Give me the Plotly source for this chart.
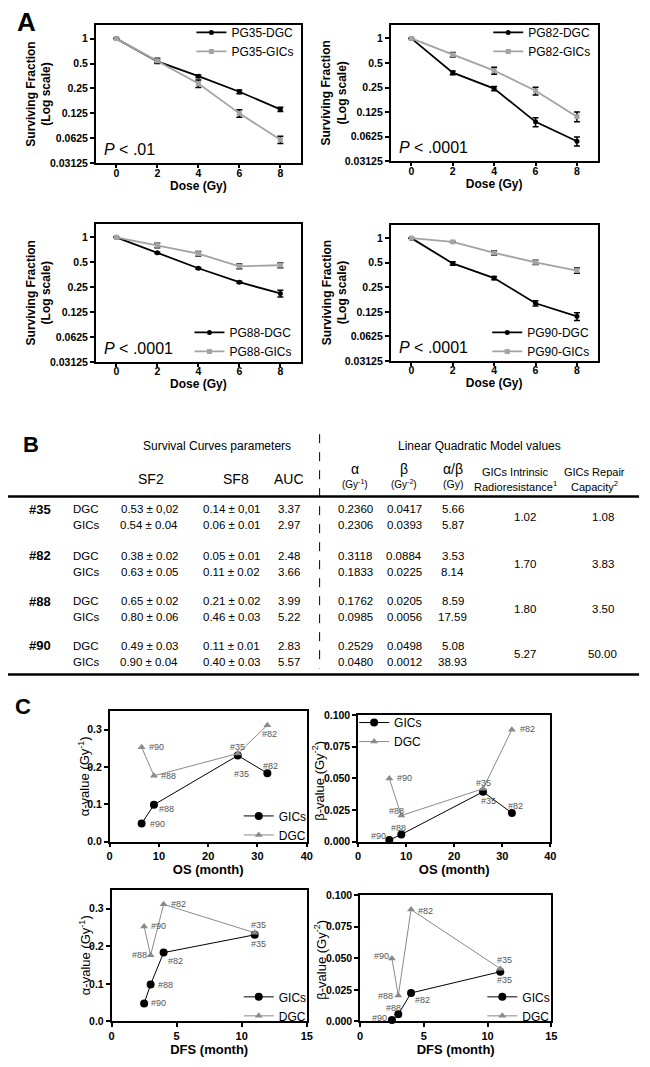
import plotly.graph_objects as go

W, H = 650, 1067
OX, OY = 8, 8            # default page margin of the html body
PW, PH = W - OX, H - OY  # figure size so that the page is exactly W x H
FONT = "Liberation Sans, Arial, Helvetica, sans-serif"
BLACK = "#000000"
GREY_A = "#a3a3a3"
GREY_C = "#8a8a8a"
LABEL_GREY = "#555555"

# ---------------- Panel A data ----------------
dose = [0, 2, 4, 6, 8]
cell_lines = ["PG35", "PG82", "PG88", "PG90"]
p_values = ["< .01", "< .0001", "< .0001", "< .0001"]
sf_dgc = [
    [1, 0.53, 0.352, 0.228, 0.14],
    [1, 0.38, 0.243, 0.095, 0.055],
    [1, 0.65, 0.423, 0.287, 0.21],
    [1, 0.49, 0.324, 0.159, 0.11],
]
err_dgc = [
    [0, 0.02, 0.012, 0.012, 0.008],
    [0, 0.02, 0.015, 0.012, 0.007],
    [0, 0.01, 0.01, 0.008, 0.02],
    [0, 0.025, 0.015, 0.012, 0.012],
]
sf_gic = [
    [1, 0.54, 0.287, 0.125, 0.06],
    [1, 0.63, 0.404, 0.228, 0.11],
    [1, 0.80, 0.636, 0.447, 0.46],
    [1, 0.90, 0.66, 0.505, 0.40],
]
err_gic = [
    [0, 0.04, 0.03, 0.013, 0.006],
    [0, 0.04, 0.04, 0.025, 0.015],
    [0, 0.05, 0.04, 0.03, 0.03],
    [0, 0.01, 0.04, 0.03, 0.03],
]
sf_ticks = [0.03125, 0.0625, 0.125, 0.25, 0.5, 1]
sf_ticktext = ["0.03125", "0.0625", "0.125", "0.25", "0.5", "1"]

# ---------------- Panel B data ----------------
samples = ["#35", "#82", "#88", "#90"]
cell_types = ["DGC", "GICs"]
sf2_txt = [["0.53 ± 0,02", "0.54 ± 0.04"], ["0.38 ± 0.02", "0.63 ± 0.05"],
           ["0.65 ± 0.02", "0.80 ± 0.06"], ["0.49 ± 0.03", "0.90 ± 0.04"]]
sf8_txt = [["0.14 ± 0,01", "0.06 ± 0.01"], ["0.05 ± 0.01", "0.11 ± 0.02"],
           ["0.21 ± 0.02", "0.46 ± 0.03"], ["0.11 ± 0.01", "0.40 ± 0.03"]]
auc = [[3.37, 2.97], [2.48, 3.66], [3.99, 5.22], [2.83, 5.57]]
alpha_dgc = [0.2360, 0.3118, 0.1762, 0.2529]
alpha_gic = [0.2306, 0.1833, 0.0985, 0.0480]
beta_dgc = [0.0417, 0.0884, 0.0205, 0.0498]
beta_gic = [0.0393, 0.0225, 0.0056, 0.0012]
ab_ratio = [[5.66, 5.87], [3.53, 8.14], [8.59, 17.59], [5.08, 38.93]]
radioresistance = [1.02, 1.70, 1.80, 5.27]
repair_capacity = [1.08, 3.83, 3.50, 50.00]

# ---------------- Panel C data ----------------
os_month = [26, 32, 9, 6.5]
dfs_month = [11, 4, 3, 2.5]

# ---------------- helpers (page pixel -> paper fraction) ----------------
def px(x):
    return (x - OX) / PW

def py(y):
    return 1 - (y - OY) / PH

def dx(a, b):
    return [px(a), px(b)]

def dy(t, b):
    return [py(b), py(t)]

annotations = []
shapes = []
layout = dict(
    width=PW, height=PH, margin=dict(l=0, r=0, t=0, b=0),
    paper_bgcolor="white", plot_bgcolor="white",
    font=dict(family=FONT, color=BLACK), showlegend=True,
)

def text(x, y, s, size=11, bold=False, anchor="center", angle=0, color=BLACK):
    annotations.append(dict(
        xref="paper", yref="paper", x=px(x), y=py(y), text=s, showarrow=False,
        xanchor=anchor, yanchor="middle", textangle=angle,
        font=dict(family=FONT, size=size, color=color,
                  weight="bold" if bold else "normal"),
    ))

fig = go.Figure()

def axis_common():
    return dict(showline=True, mirror=True, linecolor=BLACK, linewidth=1.5,
                ticks="outside", ticklen=4, tickwidth=1.5, tickcolor=BLACK,
                showgrid=False, zeroline=False)

# ---------------- Panel A ----------------
A_boxes = [(94, 302, 19, 159), (393, 603, 19, 157), (94, 302, 220, 360), (393, 603, 221, 359)]
A_legend = [(191, 12, "top"), (492, 12, "top"), (189, 364, "bottom"), (491, 364, "bottom")]
A_ytitle = [(36, 89), (336, 88), (36, 290), (336, 290)]
for i in range(4):
    n = i + 1
    sx = "" if n == 1 else str(n)
    l, r, t, b = A_boxes[i]
    xa = axis_common()
    xa.update(domain=dx(l, r), range=[-1, 9], tickvals=dose, anchor="y" + sx, ticklen=3,
              ticklabelstandoff=-4,
              tickfont=dict(size=10.5, weight="bold"),
              title=dict(text="Dose (Gy)", font=dict(size=12, weight="bold"), standoff=0))
    ya = axis_common()
    ya.update(domain=dy(t, b), type="log", range=[-1.506, 0.166], tickvals=sf_ticks,
              ticktext=sf_ticktext, anchor="x" + sx,
              tickfont=dict(size=10.5, weight="bold"))
    layout["xaxis" + sx] = xa
    layout["yaxis" + sx] = ya
    tx, ty = A_ytitle[i]
    text(tx, ty, "Surviving Fraction<br>(Log scale)", size=12, bold=True, angle=-90)
    lg = "legend" + sx
    lx, ly, la = A_legend[i]
    layout[lg] = dict(x=px(lx), y=py(ly), xanchor="left", yanchor=la,
                      bgcolor="rgba(0,0,0,0)", font=dict(size=12), itemwidth=30,
                      tracegroupgap=0)
    fig.add_trace(go.Scatter(
        x=dose, y=sf_dgc[i], name=f"{cell_lines[i]}-DGC", mode="lines+markers",
        line=dict(color=BLACK, width=1.8), marker=dict(symbol="circle", size=5, color=BLACK),
        error_y=dict(type="data", array=err_dgc[i], color=BLACK, thickness=1.5, width=3),
        xaxis="x" + sx, yaxis="y" + sx, legend=lg, cliponaxis=False))
    fig.add_trace(go.Scatter(
        x=dose, y=sf_gic[i], name=f"{cell_lines[i]}-GICs", mode="lines+markers",
        line=dict(color=GREY_A, width=1.8), marker=dict(symbol="square", size=5, color=GREY_A),
        error_y=dict(type="data", array=err_gic[i], color=BLACK, thickness=1.5, width=3),
        xaxis="x" + sx, yaxis="y" + sx, legend=lg, cliponaxis=False))
    text(l + 6, b - 14, f"<i>P</i> {p_values[i]}", size=16, anchor="left")

text(12, 16, "A", size=26, bold=True, anchor="left")

# ---------------- Panel B (table) ----------------
text(18, 443, "B", size=22, bold=True, anchor="left")
text(217, 445, "Survival Curves parameters", size=12)
text(483, 445, "Linear Quadratic Model values", size=12)
col = dict(sf2=148, sf8=232, auc=290, a=357, b=407, ab=456, rr=529, rc=608)
text(150, 478, "SF2", size=14)
text(236, 478, "SF8", size=14)
text(290, 478, "AUC", size=14)
text(col["a"], 468, "α", size=14)
text(col["a"], 483, "(Gy<sup>-1</sup>)", size=10)
text(col["b"], 468, "β", size=14)
text(col["b"], 483, "(Gy<sup>-2</sup>)", size=10)
text(col["ab"], 468, "α/β", size=14)
text(col["ab"], 483, "(Gy)", size=10.5)
text(520, 471, "GICs Intrinsic", size=11)
text(520, 485, "Radioresistance<sup>1</sup>", size=11)
text(600, 471, "GICs Repair", size=11)
text(600, 485, "Capacity<sup>2</sup>", size=11)

shapes.append(dict(type="line", xref="paper", yref="paper", x0=px(5), x1=px(645),
                   y0=py(496), y1=py(496), line=dict(color=BLACK, width=2.5)))
shapes.append(dict(type="line", xref="paper", yref="paper", x0=px(5), x1=px(645),
                   y0=py(676), y1=py(676), line=dict(color=BLACK, width=2.5)))
shapes.append(dict(type="line", xref="paper", yref="paper", x0=px(321), x1=px(321),
                   y0=py(433), y1=py(670), line=dict(color=BLACK, width=1, dash="dash")))

row_y = [509, 556, 602, 647]
for g in range(4):
    y0 = row_y[g]
    text(37, y0, samples[g], size=13, bold=True)
    text(col["rr"], y0 + 8, f"{radioresistance[g]:.2f}", size=11.5)
    text(col["rc"], y0 + 8, f"{repair_capacity[g]:.2f}", size=11.5)
    alphas = [alpha_dgc[g], alpha_gic[g]]
    betas = [beta_dgc[g], beta_gic[g]]
    for k in range(2):
        yy = y0 + 16 * k
        text(69, yy, cell_types[k], size=11.5, anchor="left")
        text(col["sf2"], yy, sf2_txt[g][k], size=11.5)
        text(col["sf8"], yy, sf8_txt[g][k], size=11.5)
        text(col["auc"], yy, f"{auc[g][k]:.2f}", size=11.5)
        text(col["a"], yy, f"{alphas[k]:.4f}", size=11.5)
        text(col["b"], yy, f"{betas[k]:.4f}", size=11.5)
        text(col["ab"], yy, f"{ab_ratio[g][k]:.2f}", size=11.5)

# ---------------- Panel C ----------------
text(10, 708, "C", size=22, bold=True, anchor="left")
C_boxes = [(108, 308, 713, 845), (360, 555, 717, 845), (110, 308, 894, 1027), (362, 556, 899, 1027)]
C_x = [os_month, os_month, dfs_month, dfs_month]
C_xtitle = ["OS (month)", "OS (month)", "DFS (month)", "DFS (month)"]
C_xmax = [40, 40, 15, 15]
C_xticks = [[0, 10, 20, 30, 40], [0, 10, 20, 30, 40], [0, 5, 10, 15], [0, 5, 10, 15]]
C_ykind = ["a", "b", "a", "b"]
C_ytitle = [(82, 779), (320, 784), (83, 960), (322, 965)]
C_legend = [(239, 853, "bottom"), (356, 710, "top"), (239, 1036, "bottom"), (486, 1036, "bottom")]
# label offsets: (series, sample) -> (xanchor, xshift, yshift)
C_label_style = [
    {("DGC", "#90"): ("left", 5, 0), ("DGC", "#88"): ("left", 5, 0),
     ("DGC", "#35"): ("center", 0, 7), ("DGC", "#82"): ("center", 2, -9),
     ("GICs", "#35"): ("center", 4, -18), ("GICs", "#82"): ("center", 3, 7),
     ("GICs", "#88"): ("left", 3, -4), ("GICs", "#90"): ("left", 6, 0)},
    {("DGC", "#90"): ("left", 6, 0), ("DGC", "#88"): ("center", -5, 5),
     ("DGC", "#35"): ("center", 0, 6), ("DGC", "#82"): ("left", 6, 1),
     ("GICs", "#35"): ("center", 5, -9), ("GICs", "#82"): ("center", 4, 7),
     ("GICs", "#88"): ("center", -3, 6), ("GICs", "#90"): ("right", -1, 4)},
    {("DGC", "#82"): ("left", 5, 0), ("DGC", "#90"): ("left", 5, 0),
     ("DGC", "#88"): ("right", -2, 0), ("DGC", "#35"): ("center", 4, 8),
     ("GICs", "#35"): ("center", 4, -9), ("GICs", "#82"): ("left", 2, -8),
     ("GICs", "#88"): ("left", 5, -1), ("GICs", "#90"): ("left", 5, 0)},
    {("DGC", "#90"): ("right", -1, 2), ("DGC", "#88"): ("right", -3, 0),
     ("DGC", "#82"): ("left", 5, -1), ("DGC", "#35"): ("center", 4, 9),
     ("GICs", "#35"): ("center", 4, -8), ("GICs", "#82"): ("left", 2, -7),
     ("GICs", "#88"): ("center", -5, 6), ("GICs", "#90"): ("right", -3, 2)},
]

for i in range(4):
    n = i + 5
    sx = str(n)
    l, r, t, b = C_boxes[i]
    xa = axis_common()
    xa.update(domain=dx(l, r), range=[0, C_xmax[i]], tickvals=C_xticks[i], anchor="y" + sx,
              tickfont=dict(size=11, weight="bold"),
              title=dict(text=C_xtitle[i], font=dict(size=13, weight="bold"), standoff=0))
    ya = axis_common()
    if C_ykind[i] == "a":
        ya.update(range=[0, 0.35], tickvals=[0, 0.1, 0.2, 0.3], tickformat=".1f")
        ytitle = "α-value (Gy<sup>-1</sup>)"
        gic_y, dgc_y = alpha_gic, alpha_dgc
    else:
        ya.update(range=[0, 0.1], tickvals=[0, 0.025, 0.05, 0.075, 0.1], tickformat=".3f")
        ytitle = "β-value (Gy<sup>-2</sup>)"
        gic_y, dgc_y = beta_gic, beta_dgc
    ya.update(domain=dy(t, b), anchor="x" + sx, tickfont=dict(size=10.5, weight="bold"))
    layout["xaxis" + sx] = xa
    layout["yaxis" + sx] = ya
    tx, ty = C_ytitle[i]
    text(tx, ty, ytitle, size=13, angle=-90)
    lg = "legend" + sx
    lx, ly, la = C_legend[i]
    layout[lg] = dict(x=px(lx), y=py(ly), xanchor="left", yanchor=la,
                      bgcolor="rgba(0,0,0,0)", font=dict(size=12), itemwidth=30,
                      tracegroupgap=0)
    xs = C_x[i]
    order = sorted(range(4), key=lambda j: xs[j])
    fig.add_trace(go.Scatter(
        x=[xs[j] for j in order], y=[gic_y[j] for j in order], name="GICs",
        mode="lines+markers", line=dict(color=BLACK, width=1),
        marker=dict(symbol="circle", size=8, color=BLACK),
        xaxis="x" + sx, yaxis="y" + sx, legend=lg, cliponaxis=False))
    fig.add_trace(go.Scatter(
        x=[xs[j] for j in order], y=[dgc_y[j] for j in order], name="DGC",
        mode="lines+markers", line=dict(color=GREY_C, width=1),
        marker=dict(symbol="triangle-up", size=7, color=GREY_C),
        xaxis="x" + sx, yaxis="y" + sx, legend=lg, cliponaxis=False))
    for series, yvals in (("GICs", gic_y), ("DGC", dgc_y)):
        for j in range(4):
            anc, xsft, ysft = C_label_style[i][(series, samples[j])]
            annotations.append(dict(
                xref="x" + sx, yref="y" + sx, x=xs[j], y=yvals[j], text=samples[j],
                showarrow=False, xanchor=anc, yanchor="middle", xshift=xsft, yshift=ysft,
                font=dict(family=FONT, size=9, color=LABEL_GREY)))

layout["annotations"] = annotations
layout["shapes"] = shapes
fig.update_layout(**layout)
fig.write_html("out.html")
